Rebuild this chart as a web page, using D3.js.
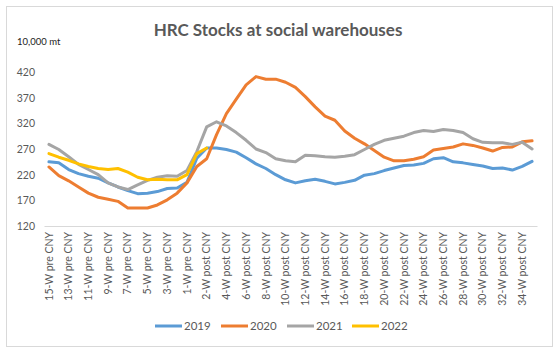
<!DOCTYPE html>
<html><head><meta charset="utf-8">
<script src="https://cdn.jsdelivr.net/npm/d3@7"></script>
<style>body{margin:0;background:#fff;} svg{display:block;font-family:Lato,"Open Sans",sans-serif;}</style>
</head><body>
<svg id="c" width="559" height="356"></svg>
<script>
const preWeeks = d3.range(15, 0, -1).map(n => n + "-W pre CNY");
const postWeeks = d3.range(1, 36).map(n => n + "-W post CNY");
const categories = preWeeks.concat(postWeeks);
const yTicks = [120, 170, 220, 270, 320, 370, 420];
const seriesNames = ["2019", "2020", "2021", "2022"];
const seriesColors = ["#5B9BD5", "#ED7D31", "#A5A5A5", "#FFC000"];
const v2019 = [245,243,230,222,217,213,204,196,189,183,184,187,193,194,205,252,272,272,269,264,253,241,232,220,210,204,208,211,207,202,205,209,219,222,228,233,238,239,242,251,253,245,243,240,237,232,233,229,236,246];
const v2020 = [235,218,208,196,184,176,172,168,155,155,155,161,171,184,204,236,251,298,339,367,395,411,406,406,400,390,372,352,334,326,305,291,280,267,254,247,247,250,255,268,271,274,280,277,272,266,273,274,284,286];
const v2021 = [279,269,255,240,230,220,204,196,191,200,209,215,218,217,228,265,313,323,315,302,287,270,263,251,247,245,258,257,255,254,256,259,269,279,287,291,295,302,306,304,308,306,302,290,283,282,282,279,283,270];
const v2022 = [261,254,248,241,236,232,230,232,225,215,210,211,210,210,220,261,272];
const seriesValues = [v2019, v2020, v2021, v2022];

const svg = d3.select("#c");
svg.append("rect").attr("x",6.5).attr("y",6.5).attr("width",546).attr("height",340)
  .attr("fill","#fff").attr("stroke","#d9d9d9");

svg.append("text").attr("x",278).attr("y",36).attr("text-anchor","middle")
  .attr("font-size",17).attr("font-weight","bold").attr("fill","#595959")
  .text("HRC Stocks at social warehouses");
svg.append("text").attr("x",17).attr("y",45).attr("font-size",9.5).attr("fill","#222")
  .text("10,000 mt");

const x = d3.scaleBand().domain(categories).range([44, 537]).padding(0);
const y = d3.scaleLinear().domain([120, 420]).range([226, 72]);

// y axis labels
const yAxis = svg.append("g").attr("transform","translate(35,0)")
  .call(d3.axisLeft(y).tickValues(yTicks).tickSize(0).tickPadding(0).tickFormat(d3.format("d")));
yAxis.select(".domain").remove();
yAxis.selectAll("text").attr("font-size",10.5).attr("fill","#595959").attr("font-family","Lato,'Open Sans',sans-serif");

// x axis
const xAxis = svg.append("g").attr("transform","translate(0,226)")
  .call(d3.axisBottom(x).tickSize(0).tickValues(categories.filter((d,i)=>i%2===0)));
xAxis.select(".domain").attr("stroke","#d9d9d9").attr("stroke-width",1);
xAxis.selectAll("text").attr("font-size",10.5).attr("fill","#595959")
  .attr("font-family","Lato,'Open Sans',sans-serif")
  .attr("text-anchor","end").attr("dy","0.35em")
  .attr("transform","translate(0,6) rotate(-90)").attr("x",0).attr("y",0);

const line = d3.line().x((d,i)=>x(categories[i]) + x.bandwidth()/2).y(d=>y(d)).curve(d3.curveLinear);
seriesValues.forEach((vals,k)=>{
  svg.append("path").datum(vals).attr("d",line).attr("fill","none")
    .attr("stroke",seriesColors[k]).attr("stroke-width",3).attr("stroke-linejoin","round").attr("stroke-linecap","round");
});

// legend
const legX = [155, 221, 287, 352];
const leg = svg.append("g");
seriesNames.forEach((n,k)=>{
  leg.append("line").attr("x1",legX[k]).attr("x2",legX[k]+27).attr("y1",326).attr("y2",326)
    .attr("stroke",seriesColors[k]).attr("stroke-width",3);
  leg.append("text").attr("x",legX[k]+29).attr("y",330).attr("font-size",11.5).attr("fill","#595959").text(n);
});
</script>
</body></html>
